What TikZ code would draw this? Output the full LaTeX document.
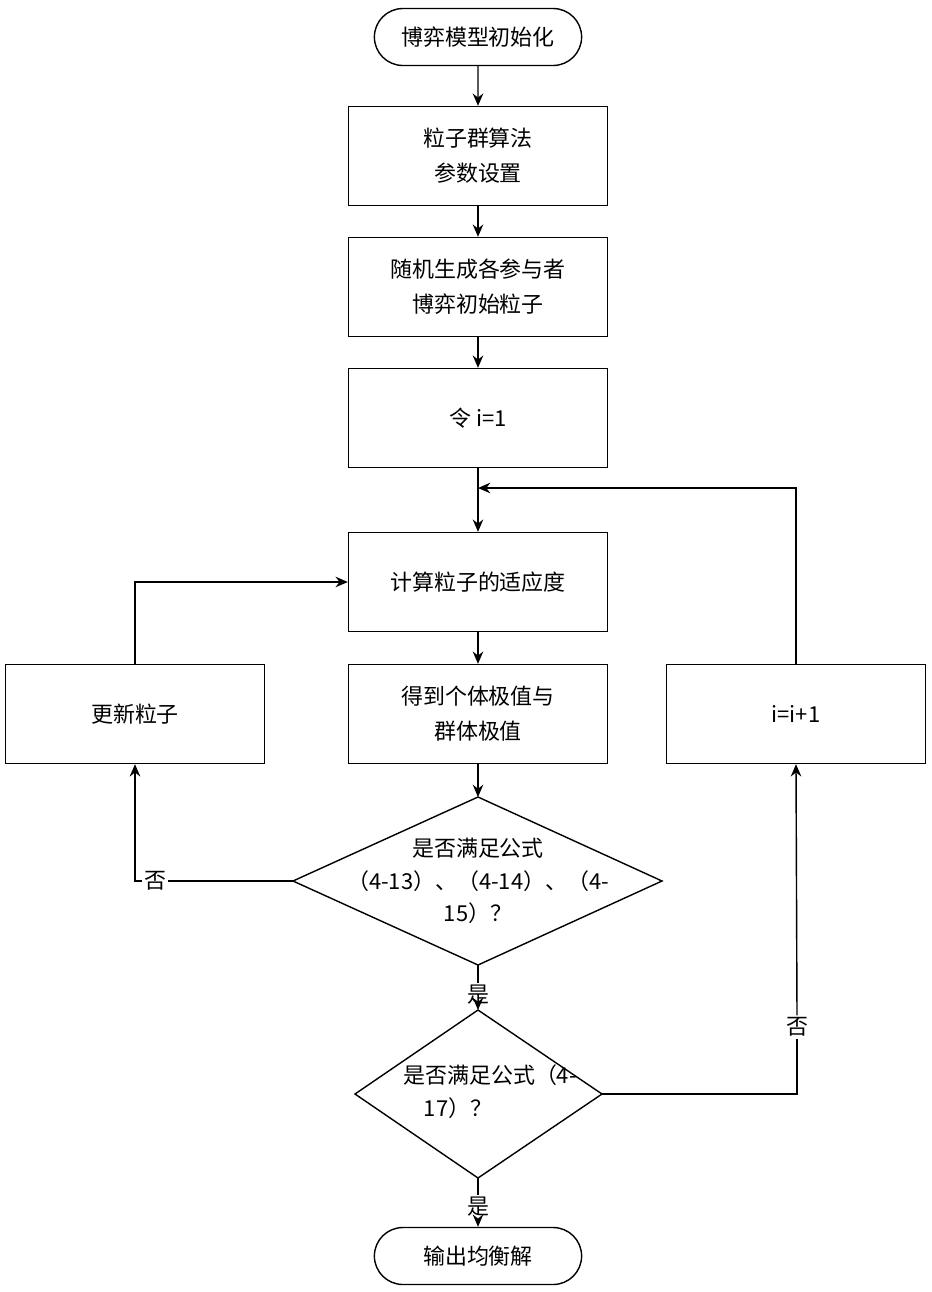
\documentclass[tikz,border=0pt]{standalone}
\usepackage{fontspec}
\setmainfont{Liberation Serif}
\newfontfamily\cjk{Noto Sans CJK SC}
\usetikzlibrary{arrows.meta,shapes.misc}
\begin{document}
\begin{tikzpicture}[x=0.02cm,y=-0.02cm,
  every node/.style={font=\cjk\fontsize{12.5}{20}\selectfont, align=center},
  box/.style={draw, line width=0.8pt, minimum width=5.18cm, minimum height=1.98cm, inner sep=0pt},
  term/.style={draw, line width=0.8pt, rounded rectangle, minimum width=4.38cm, minimum height=1.14cm},
  lab/.style={font=\cjk\fontsize{12.5}{16}\selectfont, inner sep=1pt},
  ar/.style={line width=0.8pt, -{Stealth[length=7pt,width=6pt]}},
  ln/.style={line width=0.8pt}]
\useasboundingbox (0,0) rectangle (931,1292);
\node[term] (s) at (478,37) {博弈模型初始化};
\node[box] (b1) at (478,156) {粒子群算法\\参数设置};
\node[box] (b2) at (478,287) {随机生成各参与者\\博弈初始粒子};
\node[box] (b3) at (478,418) {令 i=1};
\node[box] (b4) at (478,582) {计算粒子的适应度};
\node[box] (b5) at (478,714) {得到个体极值与\\群体极值};
\node[box] (bl) at (135,714) {更新粒子};
\node[box] (br) at (796,714) {i=i+1};
% diamond 1
\coordinate (d1t) at (478,797); \coordinate (d1b) at (478,965);
\coordinate (d1l) at (293,881); \coordinate (d1r) at (662,881);
\draw[ln] (d1t) -- (d1r) -- (d1b) -- (d1l) -- cycle;
\node[lab] (t1) at (478,848) {是否满足公式};
\node[lab] (t2) at (478,881) {（4-13）、（4-14）、（4-};
\node[lab] (t3) at (478,913) {15）？};
% diamond 2
\coordinate (d2t) at (478,1010); \coordinate (d2b) at (478,1178);
\coordinate (d2l) at (355,1094); \coordinate (d2r) at (602,1094);
\draw[ln] (d2t) -- (d2r) -- (d2b) -- (d2l) -- cycle;
\node[lab] (u1) at (490,1075) {是否满足公式（4-};
\node[lab] (u2) at (458,1108) {17）？};
\node[term] (e) at (478,1256) {输出均衡解};
\draw[ar] (s) -- (b1);
\draw[ar] (b1) -- (b2);
\draw[ar] (b2) -- (b3);
\draw[ar] (b3) -- (b4);
\draw[ar] (b4) -- (b5);
\draw[ar] (b5) -- (d1t);
\node[lab] (y1) at (478,995) {是};
\draw[ln] (d1b) -- (y1);
\draw[ar] (y1) -- (d2t);
\node[lab] (y2) at (478,1207) {是};
\draw[ln] (d2b) -- (y2);
\draw[ar] (y2) -- (e);
\node[lab,fill=white] (n1) at (155,881) {否};
\draw[ln] (d1l) -- (n1);
\draw[ar] (n1.west) -| (bl.south);
\draw[ar] (bl.north) |- (b4.west);
\coordinate (j) at (478,488);
\node[lab,fill=white] (n2) at (797,1027) {否};
\draw[ln] (d2r) -| (n2.south);
\draw[ar] (n2.north) -- (br.south);
\draw[ar] (br.north) |- (j);
\end{tikzpicture}
\end{document}
